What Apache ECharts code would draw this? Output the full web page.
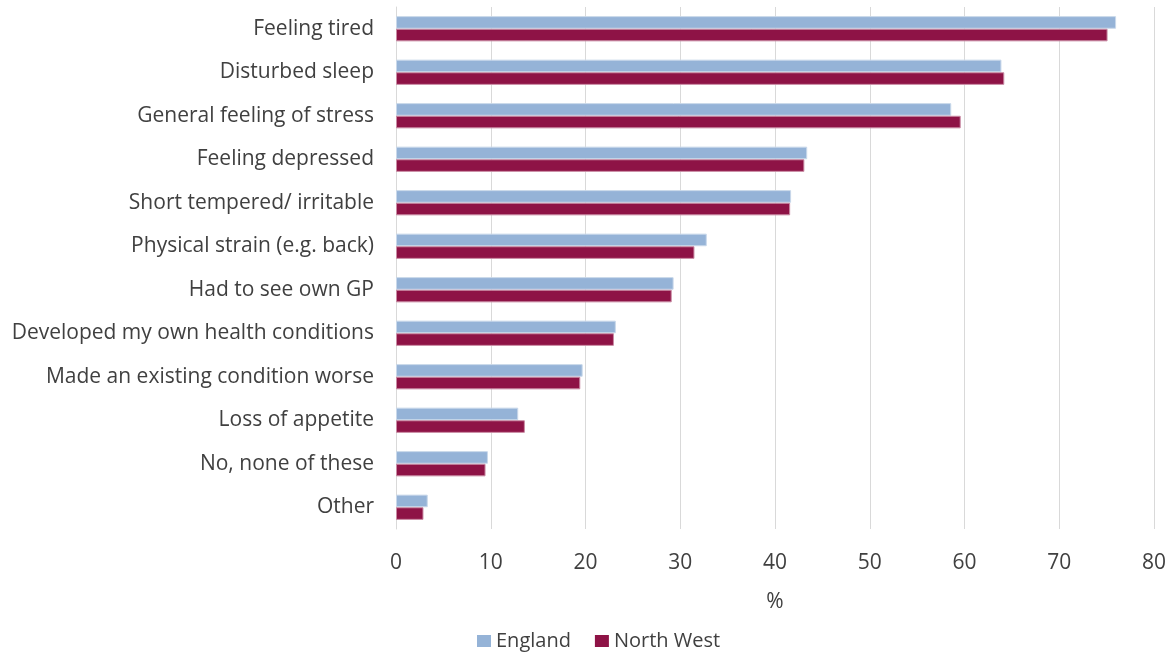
<!DOCTYPE html>
<html>
<head>
<meta charset="utf-8">
<title>Carer health effects</title>
<script src="https://cdn.jsdelivr.net/npm/echarts@6/dist/echarts.min.js"></script>
<style>
  html, body { margin: 0; padding: 0; background: #fff; }
  #chart { width: 1172px; height: 654px; }
</style>
</head>
<body>
<div id="chart"></div>
<script>
// categories, top to bottom
const categories = [
  "Feeling tired",
  "Disturbed sleep",
  "General feeling of stress",
  "Feeling depressed",
  "Short tempered/ irritable",
  "Physical strain (e.g. back)",
  "Had to see own GP",
  "Developed my own health conditions",
  "Made an existing condition worse",
  "Loss of appetite",
  "No, none of these",
  "Other"
];

// % values
const england = [76.0, 63.9, 58.6, 43.4, 41.7, 32.8, 29.3, 23.2, 19.7, 12.9, 9.7, 3.35];
const northWest = [75.1, 64.2, 59.6, 43.1, 41.6, 31.5, 29.1, 23.0, 19.45, 13.6, 9.45, 2.9];

const seriesNames = ["England", "North West"];
const xTicks = { min: 0, max: 80, interval: 10 };

const myChart = echarts.init(document.getElementById("chart"));

const textColor = "#404040";
const fontFamily = "'Open Sans', sans-serif";

const option = {
  color: ["#95b3d7", "#8e1346"],
  textStyle: { fontFamily: fontFamily },
  legend: {
    data: seriesNames,
    left: 472,
    top: 626,
    icon: "rect",
    itemWidth: 14,
    itemHeight: 12,
    itemGap: 24,
    itemStyle: { borderWidth: 0 },
    textStyle: { fontSize: 20, color: textColor, fontFamily: fontFamily }
  },
  grid: {
    left: 396,
    right: 18,
    top: 7,
    bottom: 125,
    containLabel: false
  },
  xAxis: {
    type: "value",
    min: xTicks.min,
    max: xTicks.max,
    interval: xTicks.interval,
    name: "%",
    nameLocation: "middle",
    nameGap: 63,
    nameTextStyle: { fontSize: 21, color: textColor, fontFamily: fontFamily },
    axisLine: { show: false },
    axisTick: { show: false },
    axisLabel: { fontSize: 21, color: textColor, margin: 24, fontFamily: fontFamily },
    splitLine: { show: true, lineStyle: { color: "#d9d9d9", width: 1 } }
  },
  yAxis: {
    type: "category",
    data: categories,
    inverse: true,
    axisLine: { show: true, lineStyle: { color: "#d9d9d9", width: 1 } },
    axisTick: { show: false },
    axisLabel: { fontSize: 21, color: textColor, margin: 22, fontFamily: fontFamily }
  },
  series: [
    {
      name: seriesNames[0],
      type: "bar",
      data: england,
      barGap: "0%",
      barCategoryGap: "42%",
      itemStyle: { borderColor: "#c9d8ea", borderWidth: 1 }
    },
    {
      name: seriesNames[1],
      type: "bar",
      data: northWest,
      barGap: "0%",
      barCategoryGap: "42%",
      itemStyle: { borderColor: "#c98aa3", borderWidth: 1 }
    }
  ],
  animation: false
};

myChart.setOption(option, true);

window.addEventListener("resize", () => {
  myChart.resize();
});
</script>
</body>
</html>
